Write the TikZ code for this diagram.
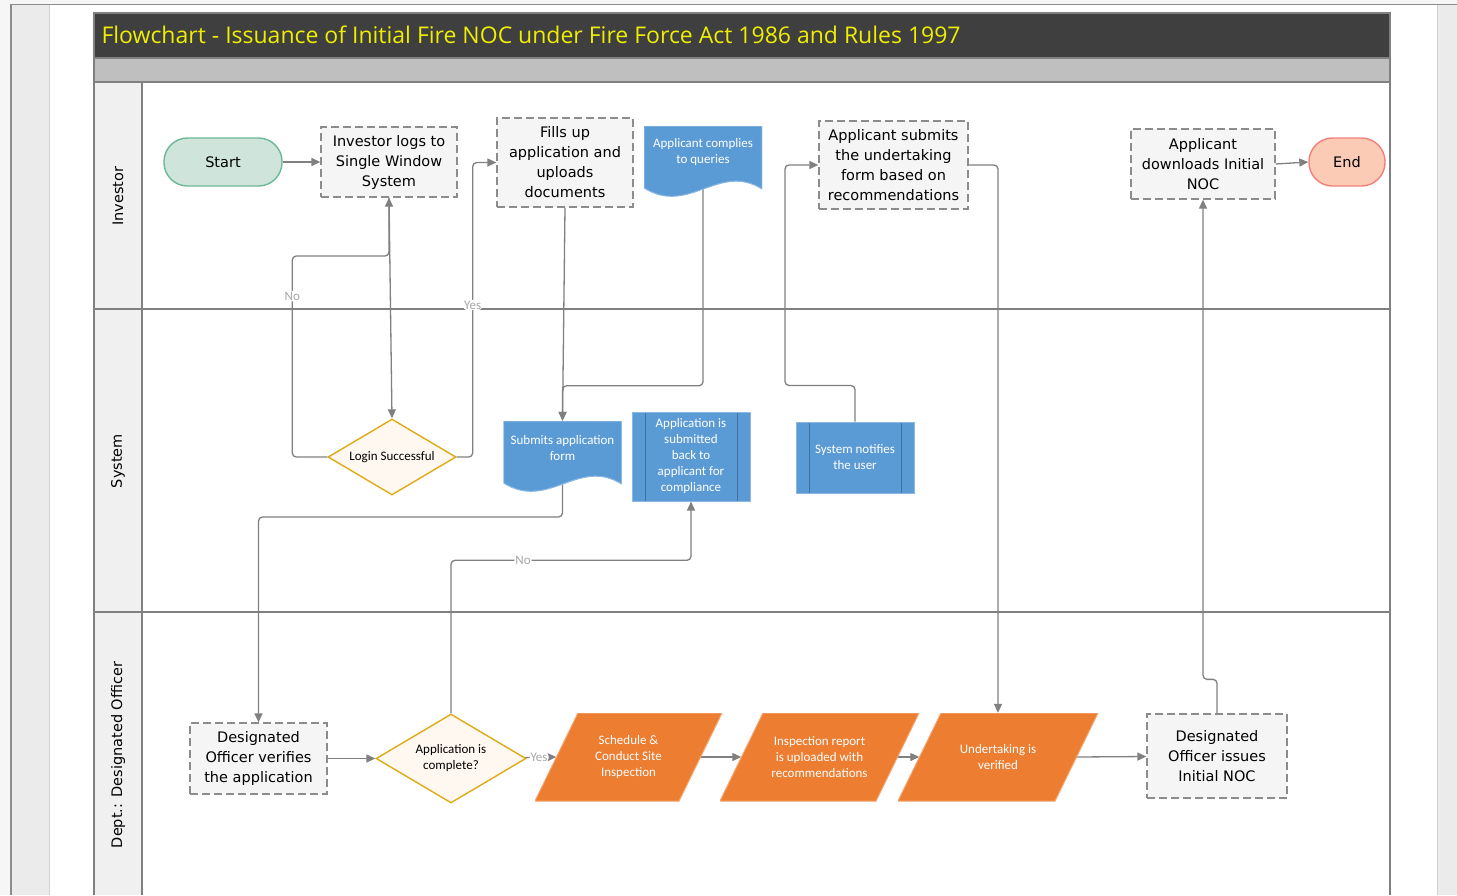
\documentclass[tikz,border=0pt]{standalone}
\usepackage{fontspec}
\setmainfont{DejaVu Sans}
\newfontfamily\calibri{Carlito}
\newfontfamily\headfont{Open Sans}
\usetikzlibrary{shapes.geometric,arrows.meta,calc}

\definecolor{pageout}{RGB}{246,246,246}
\definecolor{sidegray}{RGB}{235,235,235}
\definecolor{rimgray}{RGB}{140,140,140}
\definecolor{headbg}{RGB}{63,63,63}
\definecolor{headtext}{RGB}{238,238,0}
\definecolor{bandgray}{RGB}{191,191,191}
\definecolor{lanegray}{RGB}{240,240,240}
\definecolor{poolline}{RGB}{128,128,128}
\definecolor{wire}{RGB}{128,128,128}
\definecolor{taskfill}{RGB}{245,245,245}
\definecolor{taskline}{RGB}{140,140,140}
\definecolor{startfill}{RGB}{207,229,220}
\definecolor{startline}{RGB}{109,184,150}
\definecolor{endfill}{RGB}{252,203,182}
\definecolor{endline}{RGB}{242,128,122}
\definecolor{decfill}{RGB}{255,248,240}
\definecolor{decline}{RGB}{224,170,20}
\definecolor{docblue}{RGB}{91,155,213}
\definecolor{docedge}{RGB}{140,185,228}
\definecolor{procline}{RGB}{65,113,160}
\definecolor{orng}{RGB}{237,125,49}
\definecolor{orngedge}{RGB}{244,164,108}

\pgfdeclarelayer{lanes}
\pgfdeclarelayer{wires}
\pgfsetlayers{lanes,wires,main}

\tikzset{
  boxfont/.style={font=\fontsize{14.5}{20}\selectfont},
  smallfont/.style={font=\calibri\fontsize{13}{16}\selectfont},
  terminal/.style={rectangle, rounded corners=23.5pt, line width=1.4pt, minimum height=48pt, boxfont},
  task/.style={rectangle, fill=taskfill, draw=taskline, line width=1.3pt, dash pattern=on 8pt off 4pt, align=center, inner sep=2pt, boxfont},
  decision/.style={diamond, aspect=1.7, fill=decfill, draw=decline, line width=1.4pt, inner sep=0pt, align=center, smallfont},
  docnode/.style={rectangle, minimum width=118pt, minimum height=72pt, inner sep=0pt,
    path picture={
      \path (path picture bounding box.south west) coordinate (dsw)
            (path picture bounding box.north east) coordinate (dne);
      \filldraw[fill=docblue, draw=docedge, line width=1pt]
        (dsw |- dne) -- (dne) -- ($(dsw -| dne)+(0,-9)$)
        .. controls ($(dsw)+(75,-36)$) and ($(dsw)+(45,18)$) .. ($(dsw)+(0,-10)$) -- cycle;
    }},
  doctext/.style={text=white, align=center, smallfont},
  sysproc/.style={rectangle, fill=docblue, draw=docedge, line width=1pt, minimum width=118pt, inner sep=0pt, text=white, align=center, smallfont,
    path picture={
      \draw[procline, line width=1pt]
        ([xshift=13pt]path picture bounding box.north west) -- ([xshift=13pt]path picture bounding box.south west)
        ([xshift=-13pt]path picture bounding box.north east) -- ([xshift=-13pt]path picture bounding box.south east);
    }},
  activity/.style={rectangle, minimum height=88pt, inner sep=0pt, text=white, align=center, smallfont,
    path picture={
      \path (path picture bounding box.south west) coordinate (psw)
            (path picture bounding box.north east) coordinate (pne);
      \filldraw[fill=orng, draw=orngedge, line width=1pt]
        (psw) -- ($(psw |- pne)+(43,0)$) -- (pne) -- ($(psw -| pne)+(-43,0)$) -- cycle;
    }},
  lanetext/.style={rotate=90, boxfont},
  flow/.style={draw=wire, line width=1.3pt, rounded corners=4pt, -{Triangle[length=9pt,width=8pt]}},
  lbl/.style={fill=white, text=black!35, inner sep=1pt, font=\calibri\fontsize{13}{14}\selectfont}
}

\begin{document}
\begin{tikzpicture}[x=1pt,y=-1pt]
\useasboundingbox (0,0) rectangle (1457,895);

\begin{pgfonlayer}{lanes}
  % page
  \fill[pageout] (0,0) rectangle (1457,895);
  \fill[white] (11,5) rectangle (1437,895);
  \fill[sidegray] (12,5) rectangle (49,895);
  \fill[sidegray] (1437,5) rectangle (1457,895);
  \draw[rimgray, line width=1.6pt] (11,895) -- (11,4.5) -- (1457,4.5);
  \draw[rimgray!40, line width=1pt] (49,5) -- (49,895) (1437,5) -- (1437,895);
  % pool and lanes
  \fill[headbg] (94,13) rectangle (1390,58);
  \fill[bandgray] (94,58) rectangle (1390,82);
  \fill[lanegray] (94,82) rectangle (142,895);
  \draw[poolline, line width=1.5pt] (94,895) -- (94,13) -- (1390,13) -- (1390,895);
  \draw[poolline, line width=1.5pt] (94,58) -- (1390,58) (94,82) -- (1390,82)
    (94,309) -- (1390,309) (94,612) -- (1390,612) (142,82) -- (142,895);
\end{pgfonlayer}

\node[anchor=west, text=headtext, font=\headfont\fontsize{23}{26}\selectfont] (title) at (98,35)
  {Flowchart - Issuance of Initial Fire NOC under Fire Force Act 1986 and Rules 1997};

\node[lanetext] (laneinv) at (118,196) {Investor};
\node[lanetext] (lanesys) at (118,461) {System};
\node[lanetext] (lanedept) at (118,755) {Dept.: Designated Officer};

% investor lane
\node[terminal, fill=startfill, draw=startline, minimum width=118pt] (start) at (223,162) {Start};
\node[task, minimum width=136pt, minimum height=70pt] (login) at (389,162) {Investor logs to\\Single Window\\System};
\node[task, minimum width=136pt, minimum height=89pt] (fills) at (565,162.5) {Fills up\\application and\\uploads\\documents};
\node[docnode, label={[doctext, yshift=10pt]center:Applicant complies\\to queries}] (comply) at (703,162) {};
\node[task, minimum width=149pt, minimum height=88pt] (usub) at (893.5,165) {Applicant submits\\the undertaking\\form based on\\recommendations};
\node[task, minimum width=144pt, minimum height=70pt] (dload) at (1203,164) {Applicant\\downloads Initial\\NOC};
\node[terminal, fill=endfill, draw=endline, minimum width=76pt] (end) at (1347,162) {End};

% system lane
\node[decision, minimum width=128pt, minimum height=76pt] (loginok) at (392,457) {Login Successful};
\node[docnode, label={[doctext, yshift=9pt]center:Submits application\\form}] (subform) at (562.5,457) {};
\node[sysproc, minimum height=89pt] (appback) at (691,456.5) {Application is\\submitted\\back to\\applicant for\\compliance};
\node[sysproc, minimum height=71pt] (notify) at (855,457.5) {System notifies\\the user};

% designated officer lane
\node[task, minimum width=137pt, minimum height=71pt] (verify) at (258.5,758.5) {Designated\\Officer verifies\\the application};
\node[decision, minimum width=150pt, minimum height=89pt] (complete) at (451,758.5) {Application is\\complete?};
\node[activity, minimum width=187pt] (sched) at (628.5,757) {Schedule \&\\Conduct Site\\Inspection};
\node[activity, minimum width=199pt] (insp) at (819.5,757) {Inspection report\\is uploaded with\\recommendations};
\node[activity, minimum width=200pt] (undert) at (998,757) {Undertaking is\\verified};
\node[task, minimum width=140pt, minimum height=84pt] (issue) at (1217,756) {Designated\\Officer issues\\Initial NOC};

% connectors
\begin{pgfonlayer}{wires}
\draw[flow] (start) -- (login);
\draw[flow] (login.south) -- (loginok.north);
\draw[flow] (loginok.west) -- ++(-35,0) -- ++(0,-201) node[pos=0.8, lbl] {No} -| (login.south);
\draw[flow] (loginok.east) -- ++(16,0) -- ++(0,-152) node[lbl] {Yes} |- (fills.west);
\draw[flow] (fills.south) -- (subform.north);
\draw[flow] (comply.center) |- ($(subform.north)+(0,-35)$) -- (subform.north);
\draw[flow] (subform.center) -- ++(0,60) -| (verify.north);
\draw[flow] (verify) -- (complete);
\draw[flow] (complete.north) -- ++(0,-153) -| node[pos=0.15, lbl] {No} (appback.south);
\draw[flow] (complete) -- node[pos=0.45, lbl] {Yes} ([xshift=21.5pt]sched.west);
\draw[flow] ([xshift=-21.5pt]sched.east) -- ([xshift=21.5pt]insp.west);
\draw[flow] ([xshift=-21.5pt]insp.east) -- ([xshift=21.5pt]undert.west);
\draw[flow] ([xshift=-21.5pt]undert.east) -- (issue);
\draw[flow] (issue.north) -- ++(0,-34) -| (dload.south);
\draw[flow] (dload.east) -- (end.west);
\draw[flow] (notify.north) -- ++(0,-36) -- ++(-70,0) |- (usub.west);
\draw[flow] (usub.east) -| (undert.north);
\end{pgfonlayer}
\end{tikzpicture}
\end{document}
